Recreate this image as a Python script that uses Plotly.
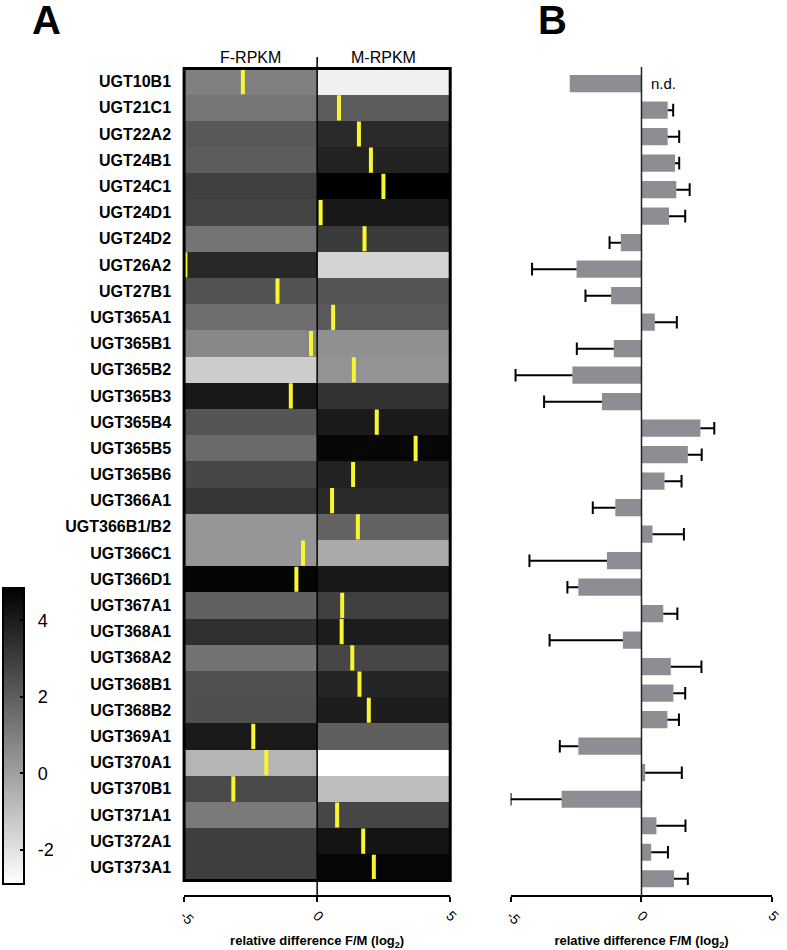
import plotly.graph_objects as go

genes = ["UGT10B1", "UGT21C1", "UGT22A2", "UGT24B1", "UGT24C1", "UGT24D1", "UGT24D2",
         "UGT26A2", "UGT27B1", "UGT365A1", "UGT365B1", "UGT365B2", "UGT365B3", "UGT365B4",
         "UGT365B5", "UGT365B6", "UGT366A1", "UGT366B1/B2", "UGT366C1", "UGT366D1",
         "UGT367A1", "UGT368A1", "UGT368A2", "UGT368B1", "UGT368B2", "UGT369A1",
         "UGT370A1", "UGT370B1", "UGT371A1", "UGT372A1", "UGT373A1"]

# heatmap values (log2 RPKM), female / male
f_rpkm = [0.96, 1.26, 2.18, 2.05, 2.90, 2.78, 1.32, 3.63, 2.36, 1.51, 0.75, -1.35, 4.12,
          2.27, 1.63, 2.69, 3.21, 0.29, 0.29, 4.70, 1.90, 3.39, 1.35, 2.42, 2.45, 4.06,
          -0.65, 2.60, 1.14, 2.97, 2.97]
m_rpkm = [-2.44, 2.05, 3.57, 3.82, 4.85, 4.12, 3.09, -1.59, 2.27, 2.11, 0.47, 0.38, 3.30,
          4.06, 4.64, 3.82, 3.57, 1.84, -0.32, 4.12, 2.90, 4.00, 2.72, 3.73, 3.97, 1.96,
          -2.90, -0.89, 2.72, 4.24, 4.67]

# yellow marks: relative difference from RNA-seq
seq_diff = [-2.79, 0.82, 1.57, 2.02, 2.49, 0.13, 1.78, -4.95, -1.49, 0.60, -0.23, 1.38,
            -0.99, 2.24, 3.70, 1.35, 0.56, 1.53, -0.53, -0.78, 0.94, 0.92, 1.32, 1.59,
            1.94, -2.40, -1.91, -3.15, 0.75, 1.73, 2.13]

# panel B: qPCR relative difference and error
qpcr_diff = [-2.74, 1.00, 1.00, 1.28, 1.33, 1.05, -0.79, -2.48, -1.16, 0.51, -1.06, -2.64,
             -1.51, 2.25, 1.77, 0.88, -1.00, 0.42, -1.32, -2.41, 0.83, -0.71, 1.12, 1.22,
             0.99, -2.41, 0.14, -3.05, 0.57, 0.37, 1.24]
qpcr_err = [None, 0.21, 0.44, 0.16, 0.51, 0.62, 0.43, 1.70, 0.98, 0.84, 1.41, 2.17, 2.21,
            0.53, 0.53, 0.65, 0.86, 1.20, 2.96, 0.42, 0.54, 2.80, 1.17, 0.45, 0.44, 0.71,
            1.40, 1.95, 1.11, 0.64, 0.53]

cbar_ticks = [4, 2, 0, -2]

H = 950
def py(px):
    return 1 - px / H

font = "Liberation Sans, Arial, sans-serif"

fig = go.Figure()

fig.add_trace(go.Heatmap(
    x=[-2.5, 2.5], y=genes, z=[[f, m] for f, m in zip(f_rpkm, m_rpkm)],
    colorscale=[[0, "#ffffff"], [1, "#000000"]], zmin=-2.9, zmax=4.85,
    xaxis="x", yaxis="y",
    colorbar=dict(x=-0.005, xanchor="left", xpad=0, y=py(884), yanchor="bottom", ypad=0,
                  len=296, lenmode="pixels", thickness=21, outlinewidth=2, outlinecolor="black",
                  tickvals=cbar_ticks, ticktext=["\u00a0\u2009" + str(t) for t in cbar_ticks],
                  ticks="inside", ticklen=5, tickwidth=2, tickcolor="black",
                  tickfont=dict(size=18, family=font, color="black")),
))

fig.add_trace(go.Scatter(
    x=seq_diff, y=genes, mode="markers", xaxis="x", yaxis="y",
    marker=dict(symbol="line-ns", size=18, line=dict(width=4, color="#f8f531")),
    showlegend=False, hoverinfo="skip",
))

fig.add_trace(go.Bar(
    x=qpcr_diff, y=genes, orientation="h", xaxis="x2", yaxis="y2", width=0.65,
    marker=dict(color="#8e8d93", line=dict(width=0)), showlegend=False,
))

# one-sided error bars, pointing away from zero
ex, ey, cx, cy = [], [], [], []
for g, v, e in zip(genes, qpcr_diff, qpcr_err):
    if e is None:
        continue
    end = v + e if v >= 0 else v - e
    ex += [v, end, None]
    ey += [g, g, None]
    cx.append(end)
    cy.append(g)
fig.add_trace(go.Scatter(x=ex, y=ey, mode="lines", xaxis="x2", yaxis="y2",
                         line=dict(color="black", width=2), showlegend=False, hoverinfo="skip"))
fig.add_trace(go.Scatter(x=cx, y=cy, mode="markers", xaxis="x2", yaxis="y2",
                         marker=dict(symbol="line-ns", size=9, line=dict(width=2, color="black")),
                         showlegend=False, hoverinfo="skip"))

xa = dict(range=[-5, 5], tickvals=[-5, 0, 5], ticktext=["-5", "0", "5"], tickangle=45,
          ticks="outside", ticklen=5, tickwidth=2, tickcolor="black", showline=True,
          linewidth=2, linecolor="black", showgrid=False, zeroline=False,
          anchor="free", position=py(896),
          tickfont=dict(size=14, family=font, color="black"),
          title=dict(text="relative difference F/M (log<sub>2</sub>)", standoff=10,
                     font=dict(size=13, family=font, color="black", weight="bold")))

fig.update_layout(
    width=787, height=950, margin=dict(l=0, r=0, t=0, b=0),
    paper_bgcolor="white", plot_bgcolor="white",
    xaxis=dict(xa, domain=[181 / 787, 453 / 787]),
    xaxis2=dict(xa, domain=[514.7 / 787, 782.3 / 787]),
    yaxis=dict(domain=[py(880.5), py(68.5)], type="category", categoryorder="array",
               categoryarray=genes, range=[30.5, -0.5], showgrid=False, zeroline=False,
               ticks="", ticklabelstandoff=12,
               tickfont=dict(size=16, family=font, color="black", weight="bold")),
    yaxis2=dict(domain=[py(892), py(70.4)], type="category", categoryorder="array",
                categoryarray=genes, range=[30.5, -0.5], showgrid=False, zeroline=False,
                showticklabels=False, ticks="", anchor="x2"),
    showlegend=False,
    shapes=[
        dict(type="rect", xref="x domain", yref="y domain", x0=0, x1=1, y0=0, y1=1,
             line=dict(color="black", width=3)),
        dict(type="line", xref="x", yref="paper", x0=0, x1=0, y0=py(896), y1=py(57),
             line=dict(color="black", width=1.5)),
        dict(type="line", xref="x2", yref="paper", x0=0, x1=0, y0=py(896), y1=py(67),
             line=dict(color="#222222", width=1.5)),
    ],
    annotations=[
        dict(text="<b>A</b>", x=23 / 787, y=py(20), xref="paper", yref="paper",
             xanchor="left", yanchor="middle", showarrow=False,
             font=dict(size=40, family=font, color="black")),
        dict(text="<b>B</b>", x=541 / 787, y=py(20), xref="paper", yref="paper",
             xanchor="left", yanchor="middle", showarrow=False,
             font=dict(size=40, family=font, color="black")),
        dict(text="F-RPKM", x=-2.5, y=py(47), xref="x", yref="paper", showarrow=False,
             font=dict(size=16, family=font, color="black")),
        dict(text="M-RPKM", x=2.5, y=py(47), xref="x", yref="paper", showarrow=False,
             font=dict(size=16, family=font, color="black")),
        dict(text="n.d.", x=0.3, y=genes[0], xref="x2", yref="y2", xanchor="left",
             showarrow=False, font=dict(size=15, family=font, color="black")),
    ],
)

# the page's default body margin would shift the figure by 8px
fig.write_html("out.html", config={"displayModeBar": False},
               post_script="document.body.style.margin='0';")
